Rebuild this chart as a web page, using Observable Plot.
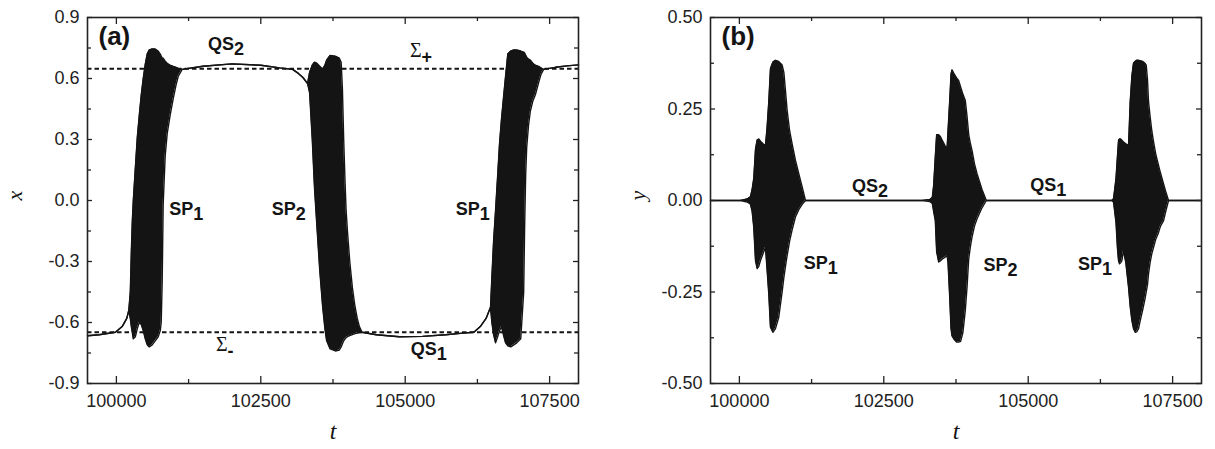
<!DOCTYPE html>
<html><head><meta charset="utf-8">
<script src="https://cdn.jsdelivr.net/npm/d3@7"></script>
<script src="https://cdn.jsdelivr.net/npm/@observablehq/plot@0.6"></script>
<style>
html,body{margin:0;padding:0;background:#fff;}
#wrap{position:relative;width:1215px;height:449px;overflow:hidden;background:#fff;}
#pa{position:absolute;left:0;top:0;}
#pb{position:absolute;left:607px;top:0;}
</style></head>
<body><div id="wrap"><div id="pa"></div><div id="pb"></div></div>
<script>
// ---------- shared axis values ----------
const tDomain = [99500, 108000];
const tMajor = [100000, 102500, 105000, 107500];
const tMinor = [101250, 103750, 106250];

// ---------- panel (a): x(t), lower / upper envelope of the trajectory ----------
const tA = [
  99500, 99700, 99983, 100100, 100180, 100215,
  100241,100259,100276,100293,100328,100362,100397,100431,100465,100500,100534,100569,100620,100672,100724,100760,100776,100793,100810,100845,100880,100931,100983,101034,101070,101138,
  101500,102000,102500,102827,103051,103150,103230,
  103310,103345,103391,103430,103470,103520,103570,103610,103640,103700,103790,103860,103891,103913,103935,103960,103977,104000,104040,104086,104130,104170,104207,104253,
  104500,104900,105300,105700,106000,106189,106300,106400,
  106477,106500,106530,106564,106600,106633,106667,106700,106737,106776,106827,106880,106931,107000,107051,107068,107085,107103,107135,107167,107210,107253,107310,107350,107396,
  107600,107800,108000
];
const xHiA = [
  -0.665,-0.66,-0.648,-0.62,-0.58,-0.54,
  -0.45,-0.25,-0.10,0.00,0.16,0.31,0.42,0.52,0.60,0.67,0.72,0.74,0.745,0.745,0.735,0.72,0.71,0.70,0.70,0.685,0.675,0.665,0.66,0.655,0.65,0.645,
  0.66,0.672,0.665,0.652,0.645,0.625,0.605,
  0.575,0.63,0.665,0.68,0.675,0.66,0.645,0.665,0.69,0.713,0.71,0.70,0.68,0.55,0.30,0.08,-0.05,-0.15,-0.30,-0.43,-0.52,-0.58,-0.62,-0.648,
  -0.66,-0.67,-0.668,-0.66,-0.652,-0.648,-0.62,-0.58,
  -0.525,-0.38,-0.2,-0.05,0.12,0.28,0.40,0.50,0.61,0.72,0.735,0.74,0.74,0.735,0.73,0.725,0.715,0.705,0.695,0.69,0.675,0.665,0.66,0.652,0.645,
  0.655,0.662,0.667
];
const xLoA = [
  -0.665,-0.66,-0.648,-0.62,-0.58,-0.54,
  -0.58,-0.62,-0.65,-0.68,-0.67,-0.63,-0.60,-0.61,-0.64,-0.68,-0.71,-0.72,-0.71,-0.69,-0.67,-0.64,-0.60,-0.40,-0.02,0.22,0.33,0.42,0.50,0.57,0.61,0.645,
  0.66,0.672,0.665,0.652,0.645,0.625,0.605,
  0.575,0.53,0.30,0.06,-0.12,-0.34,-0.52,-0.63,-0.69,-0.73,-0.74,-0.735,-0.72,-0.705,-0.69,-0.68,-0.675,-0.67,-0.665,-0.66,-0.655,-0.652,-0.65,-0.648,
  -0.66,-0.67,-0.668,-0.66,-0.652,-0.648,-0.62,-0.58,
  -0.525,-0.60,-0.66,-0.70,-0.67,-0.64,-0.62,-0.66,-0.70,-0.715,-0.72,-0.71,-0.70,-0.68,-0.45,-0.12,0.12,0.26,0.37,0.44,0.49,0.52,0.58,0.62,0.645,
  0.655,0.662,0.667
];
const sigmaLevels = [-0.648, 0.648];
const xTicksMajorA = [-0.9, -0.6, -0.3, 0.0, 0.3, 0.6, 0.9];
const xTicksMinorA = [-0.75, -0.45, -0.15, 0.15, 0.45, 0.75];

// labels in panel (a)
const annMainA = ["QS", "SP", "SP", "SP", "QS"];
const annSubA  = ["2", "1", "2", "1", "1"];
const annTA    = [101586, 100914, 102689, 105873, 105098];
const annVA    = [0.738, -0.069, -0.069, -0.069, -0.7575];
const sigMainA = ["Σ", "Σ"];
const sigSubA  = ["+", "-"];
const sigTA    = [105081, 101724];
const sigVA    = [0.705, -0.738];

// ---------- panel (b): y(t) ----------
const tB = [
  99500, 100019,
  100135,100192,100221,100249,100279,100308,100336,100365,100410,100452,100480,100509,100538,100580,100625,100680,100740,100770,100798,100827,100870,100913,100970,101028,101090,101144,
  103162,103300,103340,103363,103392,103415,103450,103479,103510,103560,103595,103612,103640,103664,103681,103720,103760,103795,103830,103870,103911,103941,103970,104000,104027,104070,104114,104200,104275,
  106449,106478,106520,106545,106564,106580,106600,106620,106650,106690,106737,106766,106795,106823,106852,106880,106910,106939,106980,107020,107043,107065,107083,107110,107140,107170,107210,107250,107290,107343,107380,107429,
  108000
];
const yHiB = [
  0, 0,
  0.004,0.01,0.03,0.06,0.14,0.165,0.168,0.162,0.155,0.15,0.2,0.27,0.36,0.378,0.383,0.38,0.37,0.35,0.30,0.246,0.19,0.155,0.11,0.073,0.035,0,
  0,0.003,0.008,0.04,0.12,0.18,0.18,0.175,0.165,0.15,0.141,0.19,0.27,0.345,0.357,0.345,0.335,0.328,0.31,0.29,0.273,0.23,0.18,0.155,0.137,0.1,0.073,0.03,0,
  0,0.005,0.06,0.12,0.164,0.168,0.168,0.165,0.16,0.155,0.15,0.27,0.34,0.375,0.38,0.383,0.383,0.382,0.38,0.375,0.37,0.33,0.27,0.23,0.19,0.16,0.125,0.1,0.075,0.045,0.025,0,
  0
];
const yLoB = [
  0, 0,
  -0.004,-0.01,-0.03,-0.073,-0.164,-0.186,-0.18,-0.164,-0.145,-0.128,-0.19,-0.255,-0.346,-0.36,-0.35,-0.32,-0.25,-0.21,-0.18,-0.15,-0.11,-0.08,-0.045,-0.025,-0.01,0,
  0,-0.003,-0.008,-0.03,-0.055,-0.14,-0.168,-0.165,-0.16,-0.155,-0.15,-0.17,-0.26,-0.35,-0.37,-0.38,-0.387,-0.387,-0.385,-0.36,-0.30,-0.237,-0.16,-0.125,-0.1,-0.07,-0.05,-0.02,0,
  0,-0.005,-0.06,-0.13,-0.165,-0.173,-0.17,-0.165,-0.137,-0.17,-0.237,-0.29,-0.328,-0.35,-0.36,-0.358,-0.35,-0.328,-0.3,-0.27,-0.25,-0.23,-0.2,-0.17,-0.145,-0.128,-0.105,-0.09,-0.07,-0.055,-0.03,0,
  0
];
const yTicksMajorB = [-0.5, -0.25, 0, 0.25, 0.5];
const yTicksMinorB = [-0.375, -0.125, 0.125, 0.375];

const annMainB = ["QS", "QS", "SP", "SP", "SP"];
const annSubB  = ["2", "1", "1", "2", "1"];
const annTB    = [101951, 105036, 101114, 104228, 105861];
const annVB    = [0.0227, 0.0273, -0.187, -0.193, -0.189];

// ---------- helpers ----------
const SANS = '"Liberation Sans", Arial, Helvetica, sans-serif';
const SERIF = '"Liberation Serif", "Times New Roman", serif';
const INK = "#141414";
const ctx = document.createElement("canvas").getContext("2d");
function textWidth(s, font) { ctx.font = font; return ctx.measureText(s).width; }

function zip(t, lo, hi) { return t.map((d, i) => ({t: d, lo: lo[i], hi: hi[i]})); }

function labelMarks(mains, subs, ts, vs, mainFont) {
  const out = [];
  mains.forEach((m, i) => {
    const w = textWidth(m, mainFont.canvas);
    out.push(Plot.text([{t: ts[i], v: vs[i], s: m}], {
      x: "t", y: "v", text: "s", textAnchor: "start", lineAnchor: "bottom",
      fontFamily: mainFont.family, fontWeight: mainFont.weight, fontSize: mainFont.size, fill: INK
    }));
    out.push(Plot.text([{t: ts[i], v: vs[i], s: subs[i]}], {
      x: "t", y: "v", text: "s", textAnchor: "start", lineAnchor: "bottom",
      dx: w + (mainFont.subGap || 0), dy: mainFont.subDy,
      fontFamily: SANS, fontWeight: "bold", fontSize: 18, fill: INK
    }));
  });
  return out;
}

function panel(o) {
  const H = 449, mT = 17, mB = 66;
  const iw = o.width - o.mL - o.mR, ih = H - mT - mB;
  const data = zip(o.t, o.lo, o.hi);
  const tickStyle = {stroke: "#222", strokeWidth: 1.3};
  const marks = [];
  if (o.sigma) marks.push(Plot.ruleY(o.sigma, {stroke: INK, strokeWidth: 1.8, strokeDasharray: "4.5,3"}));
  marks.push(
    Plot.areaY(data, {x: "t", y1: "lo", y2: "hi", fill: INK}),
    Plot.line(data, {x: "t", y: "lo", stroke: INK, strokeWidth: 1.4}),
    Plot.line(data, {x: "t", y: "hi", stroke: INK, strokeWidth: 1.4}),
    // inward ticks on all four sides
    Plot.ruleX(tMajor, {insetTop: ih - 7, ...tickStyle}),
    Plot.ruleX(tMajor, {insetBottom: ih - 7, ...tickStyle}),
    Plot.ruleX(tMinor, {insetTop: ih - 4, ...tickStyle}),
    Plot.ruleX(tMinor, {insetBottom: ih - 4, ...tickStyle}),
    Plot.ruleY(o.yMajor, {insetRight: iw - 5, ...tickStyle}),
    Plot.ruleY(o.yMajor, {insetLeft: iw - 5, ...tickStyle}),
    Plot.ruleY(o.yMinor, {insetRight: iw - 4, ...tickStyle}),
    Plot.ruleY(o.yMinor, {insetLeft: iw - 4, ...tickStyle}),
    Plot.axisX({ticks: tMajor, tickSize: 0, tickPadding: 11, tickFormat: d => String(d), fontSize: 18, fill: "#222"}),
    Plot.axisY({ticks: o.yMajor, tickSize: 0, tickPadding: 8, tickFormat: o.yFmt, fontSize: 18, fill: "#222"}),
    Plot.frame({stroke: "#222", strokeWidth: 1.6}),
    // axis titles
    Plot.text([o.ylab], {frameAnchor: "left", dx: -73, rotate: -90, fontFamily: SERIF, fontStyle: "italic", fontSize: 22, fill: INK}),
    Plot.text(["t"], {frameAnchor: "bottom", dy: 55, fontFamily: SERIF, fontStyle: "italic", fontSize: 24, fill: INK}),
    // panel tag
    Plot.text([o.tag], {frameAnchor: "top-left", dx: 11, dy: 27, lineAnchor: "bottom", textAnchor: "start", fontFamily: SANS, fontWeight: "bold", fontSize: 26, fill: INK})
  );
  marks.push(...o.extra);
  return Plot.plot({
    width: o.width, height: H,
    marginLeft: o.mL, marginRight: o.mR, marginTop: mT, marginBottom: mB,
    x: {domain: tDomain, label: null},
    y: {domain: o.yDomain, label: null},
    style: {fontFamily: SANS, fontSize: "18px", color: "#222", background: "transparent", overflow: "visible"},
    marks
  });
}

const boldSans = {family: SANS, weight: "bold", size: 18, canvas: 'bold 18px "Liberation Sans"', subDy: 5};
const sigmaFont = {family: SERIF, weight: "normal", size: 20, canvas: '20px "Liberation Serif"', subDy: 6, subGap: 0};

const plotA = panel({
  width: 607, mL: 87, mR: 29,
  t: tA, lo: xLoA, hi: xHiA,
  yDomain: [-0.9, 0.9], yMajor: xTicksMajorA, yMinor: xTicksMinorA,
  yFmt: d => d.toFixed(1), sigma: sigmaLevels, tag: "(a)", ylab: "x",
  extra: [
    ...labelMarks(annMainA, annSubA, annTA, annVA, boldSans),
    ...labelMarks(sigMainA, sigSubA, sigTA, sigVA, sigmaFont)
  ]
});
const plotB = panel({
  width: 608, mL: 103, mR: 14,
  t: tB, lo: yLoB, hi: yHiB,
  yDomain: [-0.5, 0.5], yMajor: yTicksMajorB, yMinor: yTicksMinorB,
  yFmt: d => d.toFixed(2), sigma: null, tag: "(b)", ylab: "y",
  extra: labelMarks(annMainB, annSubB, annTB, annVB, boldSans)
});
document.getElementById("pa").appendChild(plotA);
document.getElementById("pb").appendChild(plotB);
</script>
</body></html>
